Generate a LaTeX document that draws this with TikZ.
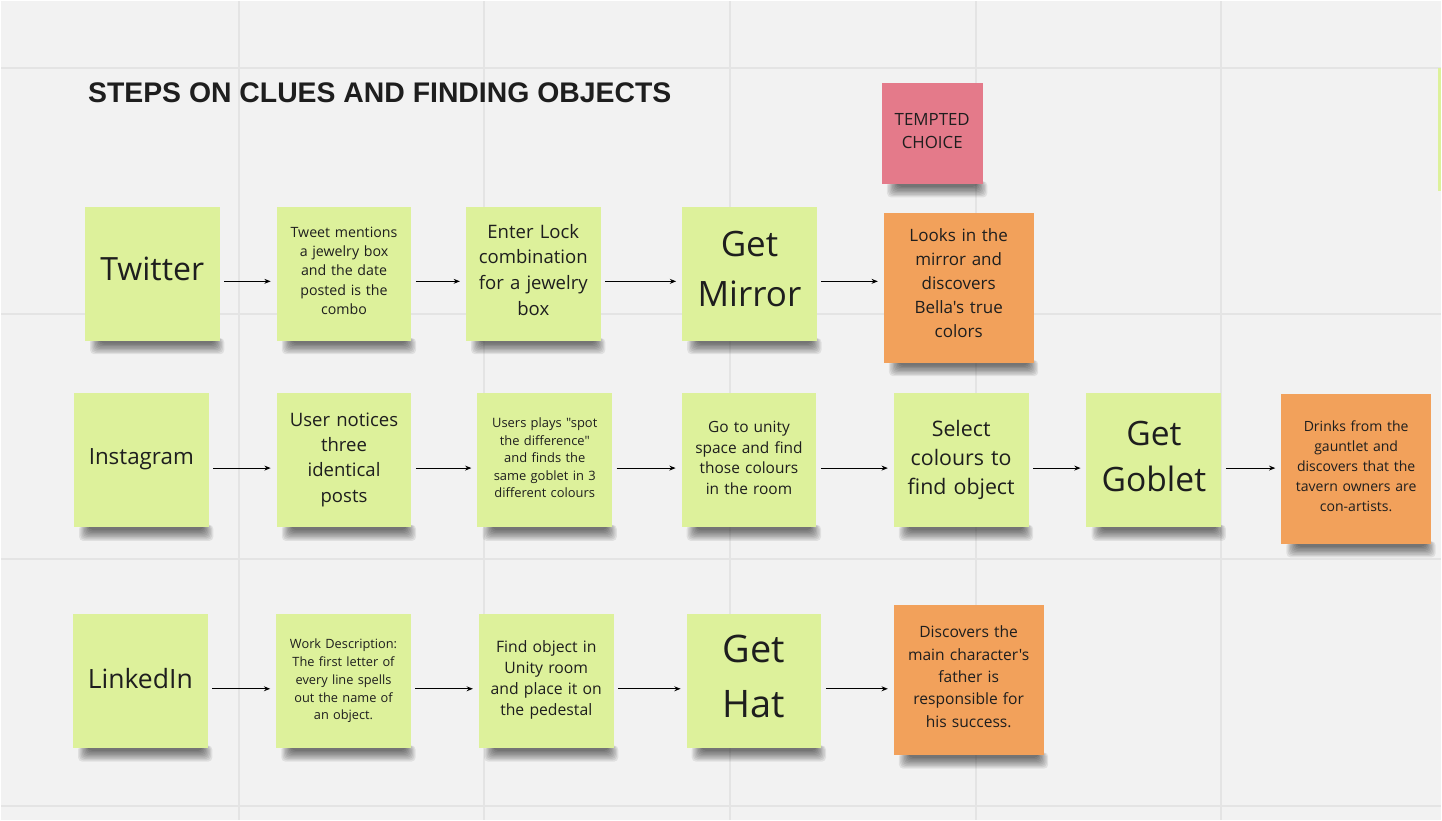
\documentclass[tikz,border=0pt]{standalone}
\usepackage{fontspec}
\setmainfont{Open Sans}[Ligatures=TeXOff]
\newfontfamily\titlefont{Liberation Sans}
\usetikzlibrary{arrows.meta}
\definecolor{bgc}{HTML}{F2F2F2}
\definecolor{gridc}{HTML}{E4E4E4}
\definecolor{notegreen}{HTML}{DDF19B}
\definecolor{noteorange}{HTML}{F2A15B}
\definecolor{notepink}{HTML}{E47A8A}
\definecolor{inkc}{HTML}{1E1E1E}
\pgfdeclarelayer{bg}
\pgfsetlayers{bg,main}

\begin{document}
\begin{tikzpicture}[x=0.025cm,y=-0.025cm,
  note/.style={fill=notegreen, text=inkc, align=center, inner sep=0pt,
    text width=3.2cm, minimum width=3.375cm, minimum height=3.35cm},
  warm/.style={note, fill=noteorange, text width=3.6cm,
    minimum width=3.75cm, minimum height=3.75cm},
  lift/.style={execute at end node={\endgraf\kern#1}},
  txt/.style 2 args={font=\fontsize{#1}{#2}\selectfont},
  arr/.style={-{Stealth[length=4.5pt,width=3.5pt]}, line width=0.8pt,
    shorten <=3pt, shorten >=4pt},
  gridline/.style={gridc, line width=1.4pt},
  shade/.style={black, opacity=0.075, rounded corners=3pt}]

  \begin{pgfonlayer}{bg}
    \fill[bgc] (0,0) rectangle (1442,820);
    \foreach \x in {238,484,730,976,1222}
      \draw[gridline] (\x,0) -- (\x,820);
    \foreach \y in {67,313,559,806}
      \draw[gridline] (0,\y) -- (1442,\y);
  \end{pgfonlayer}
  \useasboundingbox (0,0) rectangle (1442,820);
  \fill[notegreen] (1439,67) rectangle (1442,190);

  \node[anchor=base west, inner sep=0pt, text=inkc,
    font=\titlefont\bfseries\fontsize{20.2}{24}\selectfont] (title) at (87,102)
    {STEPS ON CLUES AND FINDING OBJECTS};

  \begin{scope}
    \node[note, fill=notepink, text width=2.4cm, minimum size=2.525cm,
      txt={12}{16.4}, lift=2.8pt] (tempt) at (932.5,132.5) {TEMPTED\\CHOICE};
    \node[note, txt={22.8}{30}, lift=7pt] (tw) at (151.5,273) {Twitter};
    \node[note, txt={10.1}{13.7}, lift=4pt] (tweet) at (343.5,273)
      {Tweet mentions\\a jewelry box\\and the date\\posted is the\\combo};
    \node[note, txt={13.2}{18.3}, lift=5.7pt] (lock) at (533,273)
      {Enter Lock\\combination\\for a jewelry\\box};
    \node[note, txt={24.9}{35.6}, lift=7pt] (mirror) at (749.5,273) {Get\\Mirror};
    \node[warm, txt={12.1}{17.1}, lift=5.7pt] (looks) at (959,287)
      {Looks in the\\mirror and\\discovers\\Bella's true\\colors};
  \end{scope}

  \begin{scope}
    \node[note, txt={15.9}{21}, lift=1.4pt] (insta) at (140.5,460) {Instagram};
    \node[note, txt={13.2}{18.1}, lift=1pt] (notices) at (343.5,460)
      {User notices\\three\\identical\\posts};
    \node[note, txt={9.2}{12.4}, lift=3.5pt] (plays) at (544.5,460)
      {Users plays "spot\\the difference"\\and finds the\\same goblet in 3\\different colours};
    \node[note, txt={11}{14.7}, lift=3.5pt] (unity) at (749,460)
      {Go to unity\\space and find\\those colours\\in the room};
    \node[note, txt={15.2}{20.6}, lift=0.7pt] (select) at (961.5,460)
      {Select\\colours to\\find object};
    \node[note, txt={23.9}{33.2}, lift=5.7pt] (goblet) at (1154.5,460) {Get\\Goblet};
    \node[warm, txt={10}{14.2}, lift=4.2pt] (drinks) at (1357,468.5)
      {Drinks from the\\gauntlet and\\discovers that the\\tavern owners are\\con-artists.};
  \end{scope}

  \begin{scope}
    \node[note, txt={18.9}{25}, lift=4.2pt] (linked) at (139.5,681) {LinkedIn};
    \node[note, txt={9.1}{12.6}] (work) at (343,681)
      {Work Description:\\The first letter of\\every line spells\\out the name of\\an object.};
    \node[note, txt={11.2}{14.9}, lift=1.4pt] (find) at (546,681)
      {Find object in\\Unity room\\and place it on\\the pedestal};
    \node[note, txt={27}{39}, lift=6.4pt] (hat) at (754,681) {Get\\Hat};
    \node[warm, txt={11.1}{15.9}, lift=5pt] (disc) at (969,680)
      {Discovers the\\main character's\\father is\\responsible for\\his success.};
  \end{scope}

  \begin{pgfonlayer}{bg}
    \foreach \n in {tempt,tw,tweet,lock,mirror,looks,insta,notices,plays,unity,
      select,goblet,drinks,linked,work,find,hat,disc}
      \foreach \k in {1,...,9}
        \fill[shade] ([xshift=12pt-\k*0.9pt, yshift=2pt]\n.south west)
          rectangle ([xshift=-5pt+\k*0.9pt, yshift=-1pt-\k*0.95pt]\n.south east);
  \end{pgfonlayer}

  \foreach \a/\b in {tw/tweet,tweet/lock,lock/mirror,mirror/looks,
    insta/notices,notices/plays,plays/unity,unity/select,select/goblet,goblet/drinks,
    linked/work,work/find,find/hat,hat/disc}
    \draw[arr] ([yshift=-5.5pt]\a.east) -- ([yshift=-5.5pt]\a.east -| \b.west);
\end{tikzpicture}
\end{document}
